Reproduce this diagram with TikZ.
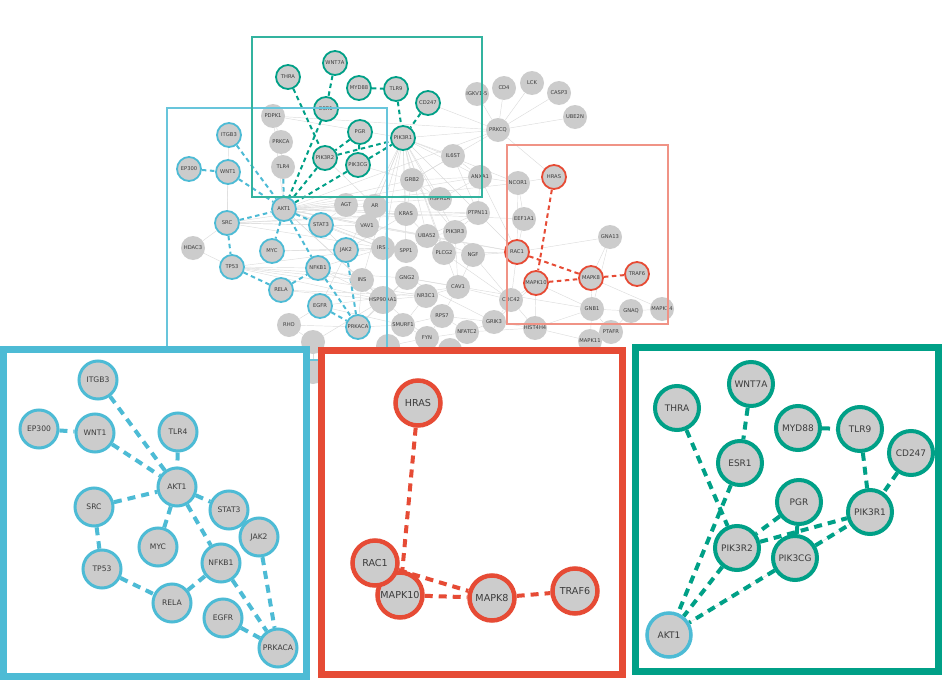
\documentclass[tikz,border=0pt]{standalone}
\usepackage{fontspec}
\setsansfont{DejaVu Sans}
\definecolor{npgblue}{HTML}{4DBBD5}
\definecolor{npgred}{HTML}{E64B35}
\definecolor{npggreen}{HTML}{00A087}
\definecolor{genegray}{HTML}{CCCCCC}
\definecolor{edgegray}{HTML}{DCDCDC}
\definecolor{labelgray}{HTML}{3C3C3C}
\pgfdeclarelayer{netedges}
\pgfdeclarelayer{panelbox}
\pgfdeclarelayer{paneledges}
\pgfdeclarelayer{panelnodes}
\pgfsetlayers{netedges,main,panelbox,paneledges,panelnodes}

\begin{document}
\begin{tikzpicture}[x=1pt, y=-1pt,
    gene/.style={circle, fill=genegray, minimum size=24pt, inner sep=0pt, text=labelgray, font=\sffamily\fontsize{5.2}{6}\selectfont},
    modgene/.style={gene, draw=#1, line width=1.8pt},
    biggene/.style={circle, fill=genegray, draw=#1, inner sep=0pt, text=labelgray},
    bluegene/.style={biggene=npgblue, minimum size=38pt, line width=3pt, font=\sffamily\fontsize{7.6}{8}\selectfont},
    redgene/.style={biggene=npgred, minimum size=45pt, line width=4.5pt, font=\sffamily\fontsize{9.6}{10}\selectfont},
    greengene/.style={biggene=npggreen, minimum size=44pt, line width=4pt, font=\sffamily\fontsize{9}{10}\selectfont},
    hair/.style={edgegray, line width=0.45pt},
    modlink/.style={#1, line width=2pt, dash pattern=on 4.5pt off 3.5pt},
    panellink/.style={#1, line width=4pt, dash pattern=on 8pt off 6pt},
    hintbox/.style={draw=#1, line width=1.5pt},
    panel/.style={draw=#1, fill=white, line width=7pt}]
    \useasboundingbox (0,0) rectangle (943,680);

    % whole network
    \foreach \n/\x/\y in {PDPK1/273/116, PRKCA/281/142, TLR4/283/167, CD4/504/88, LCK/532/83, CASP3/559/93,
        UBE2N/575/117, PRKCQ/498/130, IL6ST/453/156, GRB2/412/180, ANXA1/480/177, NCOR1/518/183,
        HSPA1A/440/199, AGT/346/205, AR/375/206, KRAS/406/214, PTPN11/478/213, EEF1A1/524/219,
        VAV1/367/226, UBA52/427/236, PIK3R3/455/232, GNA13/610/237, HDAC3/193/248, IRS1/383/248,
        SPP1/406/251, PLCG2/444/253, NGF/473/255, GNG2/407/278, INS/362/280, CAV1/458/287,
        NR3C1/426/296, CDC42/511/300, HSP90AA1/383/300, GNB1/592/309, GNAQ/631/311, MAPK14/662/309,
        RPS7/442/316, GRIK3/494/322, RHO/289/325, SMURF1/403/325, HIST4H4/535/328, NFATC2/467/332,
        PTAFR/611/332, FYN/427/338, MAPK11/590/341}
        \node[gene] (t\n) at (\x,\y) {\n};
    \node[gene] (tIGKV) at (477,94) {IGKV1-5};
    \node[gene] (tH1) at (313,342) {};
    \node[gene] (tH2) at (313,372) {};
    \node[gene] (tH3) at (388,346) {};
    \node[gene] (tH4) at (450,350) {};

    \foreach \n/\x/\y in {ITGB3/229/135, EP300/189/169, WNT1/228/172, AKT1/284/209, SRC/227/223,
        STAT3/321/225, MYC/272/251, JAK2/346/250, TP53/232/267, NFKB1/318/268, RELA/281/290,
        EGFR/320/306, PRKACA/358/327}
        \node[modgene=npgblue] (t\n) at (\x,\y) {\n};
    \foreach \n/\x/\y in {HRAS/554/177, RAC1/517/252, MAPK10/536/283, MAPK8/591/278, TRAF6/637/274}
        \node[modgene=npgred] (t\n) at (\x,\y) {\n};
    \foreach \n/\x/\y in {THRA/288/77, WNT7A/335/63, MYD88/359/88, TLR9/396/89, CD247/428/103,
        ESR1/326/109, PGR/360/132, PIK3R1/403/138, PIK3R2/325/158, PIK3CG/358/165}
        \node[modgene=npggreen] (t\n) at (\x,\y) {\n};

    \begin{pgfonlayer}{netedges}
        \foreach \a/\b in {PRKCQ/IGKV, PRKCQ/CD4, PRKCQ/LCK, PRKCQ/CASP3, PRKCQ/UBE2N, PRKCQ/PIK3R1,
            PRKCQ/CD247, PRKCQ/HRAS, PRKCQ/AKT1, PRKCQ/GRB2, PRKCQ/PDPK1,
            PIK3R1/GRB2, PIK3R1/KRAS, PIK3R1/IRS1, PIK3R1/HSPA1A, PIK3R1/UBA52, PIK3R1/PTPN11,
            PIK3R1/PIK3R3, PIK3R1/SPP1, PIK3R1/VAV1, PIK3R1/ANXA1, PIK3R1/IL6ST, PIK3R1/EGFR,
            PIK3R1/INS, PIK3R1/AR, PIK3R1/NCOR1, PIK3R1/PLCG2, PIK3R1/CAV1, PIK3R1/PDPK1,
            AKT1/AGT, AKT1/AR, AKT1/VAV1, AKT1/IRS1, AKT1/HSPA1A, AKT1/PTPN11, AKT1/NCOR1,
            AKT1/ANXA1, AKT1/PDPK1, AKT1/PRKCA, AKT1/GRB2, AKT1/KRAS, AKT1/SPP1, AKT1/HSP90AA1,
            AKT1/INS, AKT1/UBA52, AKT1/EEF1A1, AKT1/RAC1,
            SRC/HDAC3, SRC/STAT3, SRC/VAV1, SRC/AGT, SRC/IRS1, SRC/KRAS, SRC/PTPN11,
            TP53/NFKB1, TP53/IRS1, TP53/HSP90AA1, TP53/INS, TP53/HDAC3, TP53/GNG2, TP53/NR3C1,
            NFKB1/INS, NFKB1/IRS1, NFKB1/HSP90AA1, RELA/HSP90AA1, RELA/NR3C1,
            PRKACA/RHO, PRKACA/SMURF1, PRKACA/INS, PRKACA/HSP90AA1, PRKACA/GNG2,
            EGFR/RHO, EGFR/SMURF1, EGFR/CAV1, JAK2/IRS1, JAK2/STAT3, JAK2/KRAS,
            RAC1/GNA13, RAC1/NCOR1, RAC1/EEF1A1, RAC1/CDC42, RAC1/PLCG2, RAC1/NGF, RAC1/ANXA1,
            RAC1/PTPN11, RAC1/VAV1, MAPK10/CDC42, MAPK10/GNB1, MAPK10/HIST4H4, MAPK10/GRIK3,
            MAPK8/GNB1, MAPK8/GNA13, MAPK8/MAPK14, GNA13/GNB1,
            GNB1/GNAQ, GNB1/PTAFR, GNB1/MAPK11, GNB1/GNG2, GNB1/HIST4H4, GNAQ/MAPK14, GNAQ/PTAFR,
            PTAFR/MAPK11, HIST4H4/MAPK11, HIST4H4/GRIK3, HIST4H4/NFATC2, HIST4H4/CDC42,
            CDC42/CAV1, CDC42/GRIK3, CDC42/PLCG2, CDC42/NGF, CAV1/NGF, CAV1/NR3C1, CAV1/RPS7,
            CAV1/GNG2, GRIK3/NFATC2, GRIK3/RPS7, GRIK3/GNG2, NFATC2/FYN, NFATC2/RPS7, FYN/SMURF1,
            FYN/RPS7, FYN/H3, SMURF1/NR3C1, SMURF1/RPS7,
            UBA52/PIK3R3, UBA52/KRAS, UBA52/SPP1, UBA52/PLCG2, UBA52/NGF, UBA52/PTPN11,
            PIK3R3/PTPN11, PIK3R3/NGF, PIK3R3/CAV1, PIK3R3/GRB2,
            GRB2/KRAS, GRB2/HSPA1A, GRB2/IL6ST, GRB2/ANXA1, IL6ST/ANXA1, IL6ST/PTPN11,
            ANXA1/NCOR1, ANXA1/PTPN11, ANXA1/HSPA1A, NCOR1/HRAS, NCOR1/EEF1A1, PDPK1/PRKCA,
            HSP90AA1/INS, HSP90AA1/NR3C1, HSP90AA1/GNG2, HSP90AA1/FYN, HSP90AA1/H1, RHO/H1, H2/H1,
            PIK3CG/GRB2, PIK3R2/AR, WNT1/SRC, ITGB3/SRC, STAT3/IRS1, STAT3/AGT, MYC/JAK2, MYC/IRS1}
            \draw[hair] (t\a) -- (t\b);

        \foreach \a/\b in {ITGB3/AKT1, EP300/WNT1, WNT1/AKT1, TLR4/AKT1, SRC/AKT1, AKT1/STAT3,
            AKT1/MYC, AKT1/NFKB1, SRC/TP53, TP53/RELA, RELA/NFKB1, NFKB1/PRKACA, JAK2/PRKACA, EGFR/PRKACA}
            \draw[modlink=npgblue] (t\a) -- (t\b);
        \foreach \a/\b in {HRAS/MAPK10, RAC1/MAPK8, MAPK10/MAPK8, MAPK8/TRAF6}
            \draw[modlink=npgred] (t\a) -- (t\b);
        \foreach \a/\b in {THRA/PIK3R2, WNT7A/ESR1, ESR1/AKT1, MYD88/TLR9, TLR9/PIK3R1, CD247/PIK3R1,
            PGR/PIK3R2, PGR/PIK3CG, PIK3R2/PIK3R1, PIK3CG/PIK3R1, PIK3R2/AKT1, PIK3CG/AKT1}
            \draw[modlink=npggreen] (t\a) -- (t\b);
    \end{pgfonlayer}

    % module frames on the network
    \draw[hintbox=npgblue!85] (167,108) rectangle (387,360);
    \draw[hintbox=npggreen!80] (252,37) rectangle (482,197);
    \draw[hintbox=npgred!60] (507,145) rectangle (668,324);

    % zoomed panels
    \begin{pgfonlayer}{panelbox}
        \draw[panel=npgblue] (3.5,349.5) rectangle (306.5,676.5);
        \draw[panel=npgred] (321.5,350.5) rectangle (622.5,674.5);
        \draw[panel=npggreen] (635.5,347.5) rectangle (938.5,671.5);
    \end{pgfonlayer}

    \begin{pgfonlayer}{panelnodes}
        \foreach \n/\x/\y in {ITGB3/98/380, EP300/39/429, WNT1/95/433, TLR4/178/432, AKT1/177/487,
            SRC/94/507, STAT3/229/510, JAK2/259/537, MYC/158/547, NFKB1/221/563, TP53/102/569,
            RELA/172/603, EGFR/223/618, PRKACA/278/648}
            \node[bluegene] (b\n) at (\x,\y) {\n};
        \foreach \n/\x/\y in {HRAS/418/403, MAPK10/400/595, RAC1/375/563, MAPK8/492/598, TRAF6/575/591}
            \node[redgene] (r\n) at (\x,\y) {\n};
        \foreach \n/\x/\y in {THRA/677/408, WNT7A/751/384, MYD88/798/428, TLR9/860/429, CD247/911/453,
            ESR1/740/463, PGR/799/502, PIK3R1/870/512, PIK3R2/737/548, PIK3CG/795/558}
            \node[greengene] (g\n) at (\x,\y) {\n};
        \node[greengene, draw=npgblue, line width=3.5pt] (gAKT1) at (669,635) {AKT1};
    \end{pgfonlayer}

    \begin{pgfonlayer}{paneledges}
        \foreach \a/\b in {ITGB3/AKT1, EP300/WNT1, WNT1/AKT1, TLR4/AKT1, SRC/AKT1, AKT1/STAT3,
            AKT1/MYC, AKT1/NFKB1, SRC/TP53, TP53/RELA, RELA/NFKB1, NFKB1/PRKACA, JAK2/PRKACA, EGFR/PRKACA}
            \draw[panellink=npgblue] (b\a) -- (b\b);
        \foreach \a/\b in {HRAS/MAPK10, RAC1/MAPK8, MAPK10/MAPK8, MAPK8/TRAF6}
            \draw[panellink=npgred] (r\a) -- (r\b);
        \draw[hair] (gPIK3CG) -- (gAKT1);
        \draw[hair] (gPIK3CG) -- (gPIK3R1);
        \foreach \a/\b in {THRA/PIK3R2, WNT7A/ESR1, ESR1/AKT1, MYD88/TLR9, TLR9/PIK3R1, CD247/PIK3R1,
            PGR/PIK3R2, PGR/PIK3CG, PIK3R2/PIK3R1, PIK3CG/PIK3R1, PIK3R2/AKT1, PIK3CG/AKT1}
            \draw[panellink=npggreen] (g\a) -- (g\b);
    \end{pgfonlayer}
\end{tikzpicture}
\end{document}
